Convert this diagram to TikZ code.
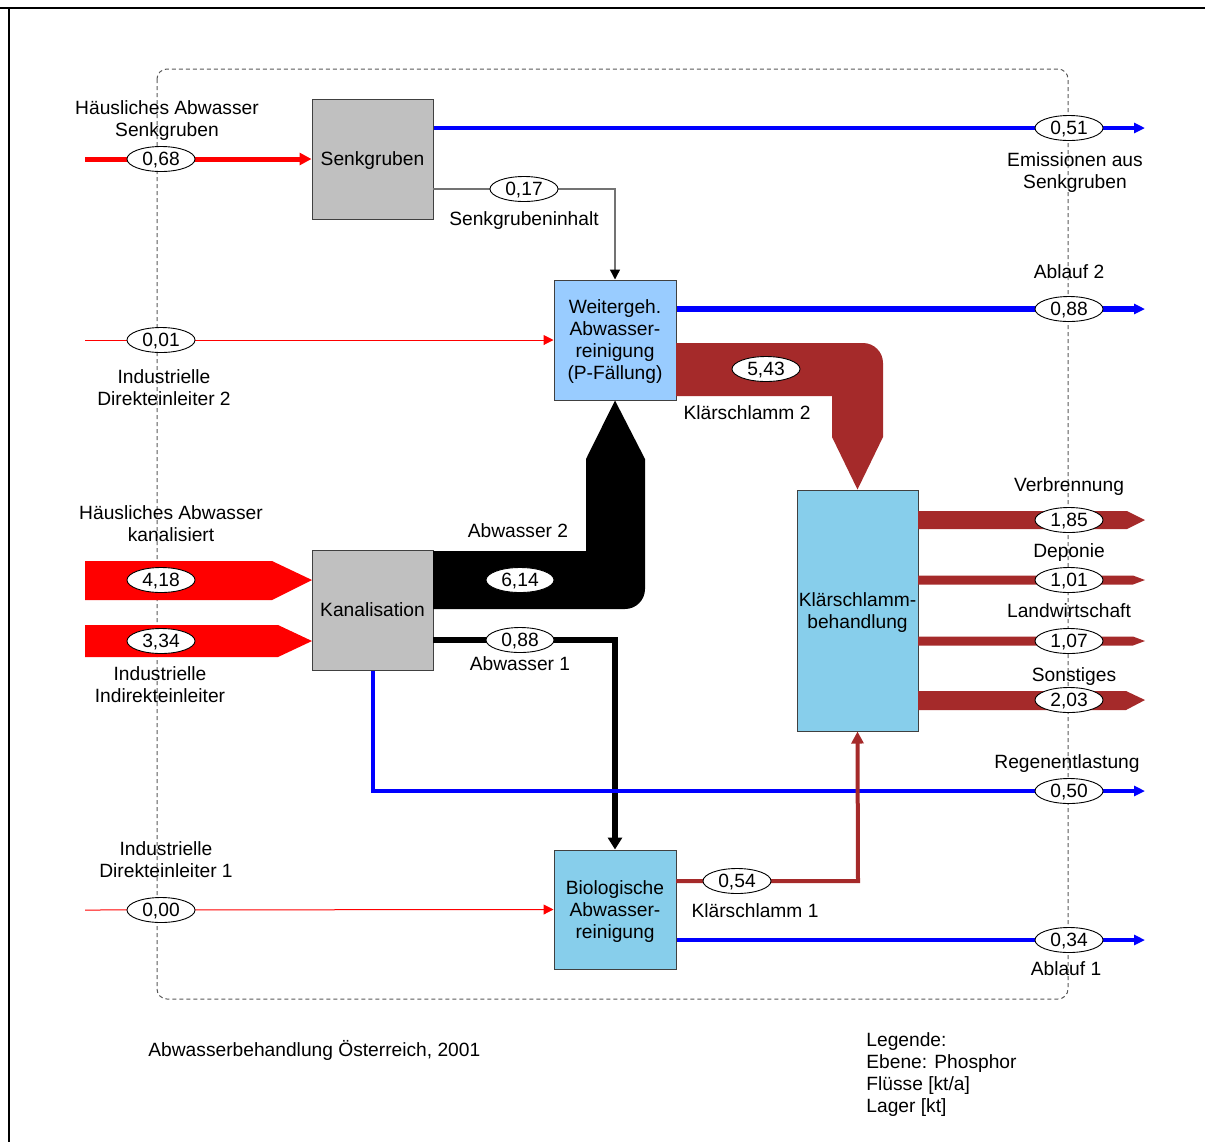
\documentclass[tikz,border=0pt]{standalone}
\usepackage{fontspec}
\setmainfont{Liberation Sans}
\usetikzlibrary{arrows.meta,shapes.geometric}
\definecolor{kbrown}{RGB}{165,42,42}
\definecolor{kblue}{RGB}{0,0,255}
\definecolor{kred}{RGB}{255,0,0}
\definecolor{boxgray}{RGB}{192,192,192}
\definecolor{lightblue}{RGB}{153,204,255}
\definecolor{skyb}{RGB}{135,206,235}
\begin{document}
\begin{tikzpicture}[x=0.5pt,y=-0.5pt,
  font=\fontsize{9.6}{11}\selectfont,
  proc/.style={draw=black!75, line width=0.5pt, minimum width=60.5pt, minimum height=60pt, inner sep=0pt, align=center, text depth=0pt},
  val/.style={ellipse, draw=black, line width=0.45pt, fill=white, minimum width=34pt, minimum height=12.5pt, inner sep=0pt, text depth=0pt},
  lbl/.style={inner sep=0pt, align=center, text depth=0pt},
  thinred/.style={draw=kred, line width=0.5pt, -{Triangle[length=5pt,width=5pt]}},
  blueflow/.style={draw=kblue, -{Triangle[length=5.5pt,width=5pt]}},
  frame/.style={draw=black, line width=0.75pt},
  sysbound/.style={draw=black!65, line width=0.5pt, dash pattern=on 2pt off 1.5pt}
]
\useasboundingbox (0,0) rectangle (1205,1142);
% frame
\draw[frame] (0,8) -- (1205,8);
\draw[frame] (9,8) -- (9,1142);
% system boundary
\draw[sysbound, rounded corners=5pt] (157,69) rectangle (1068,999);

% processes
\node[proc, fill=boxgray] (senk) at (372.5,159) {Senkgruben};
\node[proc, fill=lightblue, minimum width=61pt] (weiter) at (615,340) {Weitergeh.\\Abwasser-\\reinigung\\(P-Fällung)};
\node[proc, fill=boxgray] (kanal) at (372.5,610) {Kanalisation};
\node[proc, fill=skyb, minimum height=120.5pt] (klaer) at (857.5,610.5) {Klärschlamm-\\behandlung};
\node[proc, fill=skyb, minimum width=61pt, minimum height=59.5pt] (bio) at (615,909.5) {Biologische\\Abwasser-\\reinigung};

% coordinates for free ends
\coordinate (i068) at (85,159);
\coordinate (i001) at (85,340);
\coordinate (i000) at (85,910);
\coordinate (o051) at (1145,128);
\coordinate (o088) at (1145,309);
\coordinate (o050) at (1145,791);
\coordinate (o034) at (1145,940);

% thick bands
\fill[kbrown] (676,343) -- (863,343) arc[start angle=-90,end angle=0,radius=20] -- (883,437) -- (klaer.north) -- (832,437) -- (832,396) -- (676,396) -- cycle;
\fill[black] (433,551) -- (586,551) -- (586,459) -- (weiter.south) -- (645,459) -- (645,589) arc[start angle=0,end angle=90,radius=20] -- (433,609) -- cycle;
\fill[kred] (85,561) -- (272,561) -- (312,580) -- (272,600) -- (85,600) -- cycle;
\fill[kred] (85,625) -- (278,625) -- (312,641) -- (278,657) -- (85,657) -- cycle;
\fill[kbrown] (918,511) -- (1127,511) -- (1145,520) -- (1127,529) -- (918,529) -- cycle;
\fill[kbrown] (918,575.5) -- (1133,575.5) -- (1145,580) -- (1133,584.5) -- (918,584.5) -- cycle;
\fill[kbrown] (918,636.5) -- (1133,636.5) -- (1145,641) -- (1133,645.5) -- (918,645.5) -- cycle;
\fill[kbrown] (918,691) -- (1126,691) -- (1145,700) -- (1126,710) -- (918,710) -- cycle;

% line flows
\draw[draw=kred, line width=2.5pt, -{Triangle[length=6pt,width=6pt]}] (i068) -- (senk.west);
\draw[blueflow, line width=2.3pt] (senk.east |- o051) -- (o051);
\draw[draw=black!55, line width=0.7pt, -{Triangle[length=5pt,width=5pt,color=black]}] (433,189) -- (615,189) -- (weiter.north);
\draw[thinred] (i001) -- (weiter.west);
\draw[blueflow, line width=3.4pt] (weiter.east |- o088) -- (o088);
\draw[draw=black, line width=2.8pt, -{Triangle[length=6pt,width=7pt]}] (433,640) -- (615,640) -- (bio.north);
\draw[blueflow, line width=2pt] (kanal.south) -- (kanal.south |- o050) -- (o050);
\draw[thinred] (i000) -- (bio.west);
\draw[draw=kbrown, line width=2pt, -{Triangle[length=6pt,width=6pt]}] (676,881) -- (858,881) -- (klaer.south);
\draw[blueflow, line width=1.7pt] (bio.east |- o034) -- (o034);

% values
\node[val] (v068) at (161,159) {0,68};
\node[val] (v051) at (1069,128) {0,51};
\node[val] (v017) at (524,189) {0,17};
\node[val] (v001) at (161,340) {0,01};
\node[val] (v088b) at (1069,309) {0,88};
\node[val] (v543) at (766,369) {5,43};
\node[val] (v418) at (161,580) {4,18};
\node[val] (v334) at (161,641) {3,34};
\node[val] (v614) at (520,580) {6,14};
\node[val] (v088a) at (520,640) {0,88};
\node[val] (v185) at (1069,520) {1,85};
\node[val] (v101) at (1069,580) {1,01};
\node[val] (v107) at (1069,641) {1,07};
\node[val] (v203) at (1069,700) {2,03};
\node[val] (v050) at (1069,791) {0,50};
\node[val] (v000) at (161,910) {0,00};
\node[val] (v054) at (737,881) {0,54};
\node[val] (v034) at (1069,940) {0,34};

% labels
\node[lbl] (l1) at (167,119) {Häusliches Abwasser\\Senkgruben};
\node[lbl] (l2) at (1075,171) {Emissionen aus\\Senkgruben};
\node[lbl] (l3) at (524,219) {Senkgrubeninhalt};
\node[lbl] (l4) at (1069,272) {Ablauf 2};
\node[lbl] (l5) at (164,388) {Industrielle\\Direkteinleiter 2};
\node[lbl] (l6) at (747,413) {Klärschlamm 2};
\node[lbl] (l7) at (171,524) {Häusliches Abwasser\\kanalisiert};
\node[lbl] (l8) at (518,531) {Abwasser 2};
\node[lbl] (l9) at (160,685) {Industrielle\\Indirekteinleiter};
\node[lbl] (l10) at (520,664) {Abwasser 1};
\node[lbl] (l11) at (1069,485) {Verbrennung};
\node[lbl] (l12) at (1069,551) {Deponie};
\node[lbl] (l13) at (1069,611) {Landwirtschaft};
\node[lbl] (l14) at (1074,675) {Sonstiges};
\node[lbl] (l15) at (1067,762) {Regenentlastung};
\node[lbl] (l16) at (166,860) {Industrielle\\Direkteinleiter 1};
\node[lbl] (l17) at (755,911) {Klärschlamm 1};
\node[lbl] (l18) at (1066,969) {Ablauf 1};

% footer
\node[lbl, anchor=west] (title) at (148,1048) {Abwasserbehandlung Österreich, 2001};
\node[lbl, anchor=north west, align=left] (legend) at (866,1032) {Legende:\\Ebene: Phosphor\\Flüsse [kt/a]\\Lager [kt]};
\end{tikzpicture}
\end{document}
